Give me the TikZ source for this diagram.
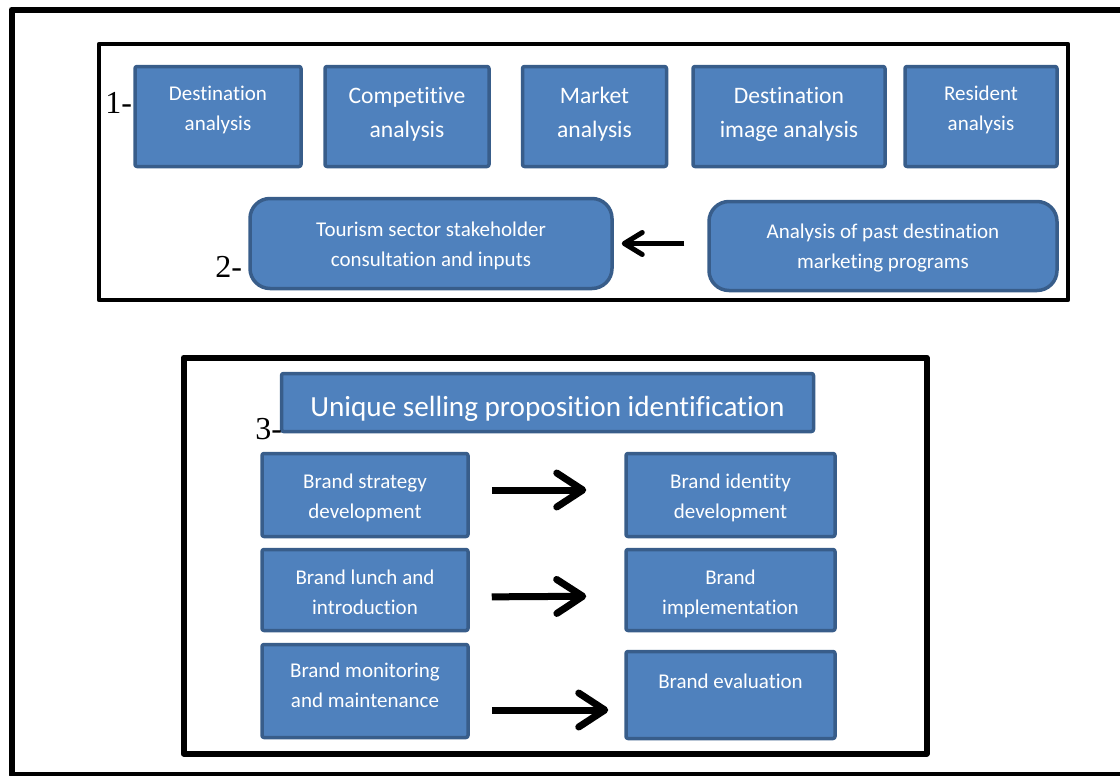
\documentclass[tikz,border=0pt]{standalone}
\usepackage{fontspec}
\usetikzlibrary{arrows.meta}
\newfontfamily\carlito[Ligatures=NoCommon]{Carlito}
\newfontfamily\timesfont{Liberation Serif}
\definecolor{boxblue}{HTML}{4F81BD}
\definecolor{boxline}{HTML}{385D8A}
\newcommand\nl{\par}

\begin{document}
\begin{tikzpicture}[x=0.5pt,y=-0.5pt,line join=round,
  box/.style n args={3}{draw=boxline, fill=boxblue, line width=1.75pt,
    rounded corners=1pt, inner sep=0pt, text=white,
    execute at begin node={\begin{minipage}[c][#2][t]{#1}\centering\rule{0pt}{#3}},
    execute at end node={\end{minipage}}},
  small/.style={font=\carlito\fontsize{10.5}{15}\selectfont},
  big/.style={font=\carlito\fontsize{11.8}{17}\selectfont},
  steplabel/.style={font=\timesfont\fontsize{16}{18}\selectfont, anchor=base west, inner sep=0pt},
  bigarrow/.style={-{Straight Barb[length=13pt,width=17pt,round]}, line width=3.5pt},
  thinarrow/.style={-{Straight Barb[length=9pt,width=11pt,round]}, line width=2.5pt}]
  \useasboundingbox (0,0) rectangle (1120,776);

  % frames
  \draw[line width=3pt] (11.5,9.5) rectangle (1135,774.5);
  \draw[line width=2.2pt] (99,44) rectangle (1068,300);
  \draw[line width=3pt] (183.5,357.5) rectangle (926.5,753.5);

  % analyses
  \node[box={83pt}{50pt}{17pt}, small] (dest) at (218,116.5) {Destination\nl analysis};
  \node[box={82pt}{50pt}{18.5pt}, big] (comp) at (407,116.5) {Competitive\nl analysis};
  \node[box={72pt}{50pt}{18.5pt}, big] (market) at (594.5,116.5) {Market\nl analysis};
  \node[box={96pt}{50pt}{18.5pt}, big] (destimg) at (789,116.5) {Destination\nl image analysis};
  \node[box={76pt}{50pt}{17pt}, small] (resident) at (981,116.5) {Resident\nl analysis};

  \node[box={181pt}{45pt}{19pt}, small, rounded corners=10pt] (tourism) at (431,243.5) {Tourism sector stakeholder\nl consultation and inputs};
  \node[box={174pt}{44.5pt}{18.5pt}, small, rounded corners=10pt] (past) at (883,246) {Analysis of past destination\nl marketing programs};
  \draw[thinarrow, shorten <=11.5pt, shorten >=4pt] (past.west |- tourism.east) -- (tourism.east);

  % brand steps
  \node[box={266pt}{29pt}{21.5pt}, font=\carlito\fontsize{14.6}{17}\selectfont] (usp) at (547.5,402.5) {Unique selling proposition identification};

  \node[box={103pt}{41.5pt}{17.5pt}, small] (bstrat) at (365,495) {Brand strategy\nl development};
  \node[box={104.5pt}{41.5pt}{17.5pt}, small] (bident) at (730.5,495) {Brand identity\nl development};
  \node[box={103pt}{40.5pt}{17.5pt}, small] (blunch) at (365,590) {Brand lunch and\nl introduction};
  \node[box={104.5pt}{40.5pt}{17.5pt}, small] (bimpl) at (730.5,590) {Brand\nl implementation};
  \node[box={103pt}{46.5pt}{16.5pt}, small] (bmon) at (365,691) {Brand monitoring\nl and maintenance};
  \node[box={104.5pt}{43.5pt}{18.5pt}, small] (beval) at (730.5,695) {Brand evaluation};

  \draw[bigarrow, shorten <=11pt, shorten >=19pt] ([yshift=2.5pt]bstrat.east) -- ([yshift=2.5pt]bident.west);
  \draw[bigarrow, shorten <=11pt, shorten >=19pt] ([yshift=-3.5pt]blunch.east) -- ([yshift=-3pt]bimpl.west);
  \draw[bigarrow, shorten <=11pt, shorten >=8pt] ([yshift=-9.5pt]bmon.east) -- ([yshift=-7.5pt]beval.west);

  % step numbers
  \node[steplabel] (lab1) at (105,113) {1-};
  \node[steplabel] (lab2) at (215,277) {2-};
  \node[steplabel] (lab3) at (255,439) {3-};
\end{tikzpicture}
\end{document}
